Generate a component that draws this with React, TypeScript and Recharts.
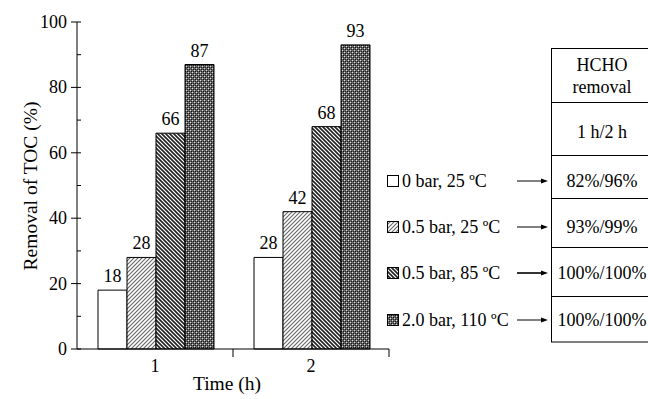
import { BarChart, Bar, XAxis, YAxis, LabelList } from 'recharts'

// ── Data ──────────────────────────────────────────────────────────────────────

const categories = ['1', '2']
const noPressure25 = [18, 28]
const halfBar25 = [28, 42]
const halfBar85 = [66, 68]
const twoBar110 = [87, 93]
const seriesNames = ['0 bar, 25 ºC', '0.5 bar, 25 ºC', '0.5 bar, 85 ºC', '2.0 bar, 110 ºC']
const hchoRemoval = ['82%/96%', '93%/99%', '100%/100%', '100%/100%']
const yTicks = [0, 10, 20, 30, 40, 50, 60, 70, 80, 90, 100]

const data = categories.map((t, i) => ({
  t,
  s0: noPressure25[i],
  s1: halfBar25[i],
  s2: halfBar85[i],
  s3: twoBar110[i],
}))

const FONT = '"Liberation Serif", "Times New Roman", serif'
const FILLS = ['#ffffff', 'url(#patLight)', 'url(#patDiag)', 'url(#patDark)']
const KEYS = ['s0', 's1', 's2', 's3']

// ── Ticks ─────────────────────────────────────────────────────────────────────

function YTick({ x, y, payload }: any) {
  const major = payload.value % 20 === 0
  return (
    <g>
      <line x1={major ? x - 6 : x} x2={x + 4} y1={y} y2={y} stroke="#000" />
      {major && (
        <text x={x - 10} y={y} textAnchor="end" dominantBaseline="central" fontSize={18} fontFamily={FONT} fill="#000">
          {payload.value}
        </text>
      )}
    </g>
  )
}

function XTick({ x, y, payload }: any) {
  return (
    <g>
      <line x1={x + 78} x2={x + 78} y1={y} y2={y + 8} stroke="#000" />
      <text x={x} y={y + 17} textAnchor="middle" dominantBaseline="central" fontSize={18} fontFamily={FONT} fill="#000">
        {payload.value}
      </text>
    </g>
  )
}

// ── Legend + table overlay ────────────────────────────────────────────────────

const rowY = [181, 227, 273, 320]
const tableLines = [48, 102, 155, 198, 247, 296, 342]

function Overlay() {
  return (
    <svg width={648} height={399} style={{ position: 'absolute', left: 0, top: 0, pointerEvents: 'none' }}>
      <text x={30} y={186} transform="rotate(-90 30 186)" textAnchor="middle" dominantBaseline="central" fontSize={19.5} fontFamily={FONT}>
        Removal of TOC (%)
      </text>
      <text x={227} y={383} textAnchor="middle" dominantBaseline="central" fontSize={19.5} fontFamily={FONT}>
        Time (h)
      </text>
      {seriesNames.map((name, i) => (
        <g key={name}>
          <rect x={387.5} y={rowY[i] - 5.5} width={11} height={11} fill={FILLS[i]} stroke="#000" />
          <text x={402} y={rowY[i]} dominantBaseline="central" fontSize={18} fontFamily={FONT}>
            {name}
          </text>
          <line x1={517} x2={544} y1={rowY[i]} y2={rowY[i]} stroke="#000" strokeWidth={i === 2 ? 1.6 : 1} />
          <path d={`M548,${rowY[i]} L541,${rowY[i] - 2.5} L541,${rowY[i] + 2.5} Z`} fill="#000" />
        </g>
      ))}
      <rect x={551.5} y={48.5} width={110} height={293.5} fill="none" stroke="#000" />
      {tableLines.slice(1, -1).map((ly) => (
        <line key={ly} x1={551.5} x2={660} y1={ly + 0.5} y2={ly + 0.5} stroke="#000" />
      ))}
      <text x={602} y={65} textAnchor="middle" dominantBaseline="central" fontSize={18} fontFamily={FONT}>HCHO</text>
      <text x={602} y={87} textAnchor="middle" dominantBaseline="central" fontSize={18} fontFamily={FONT}>removal</text>
      <text x={602} y={132} textAnchor="middle" dominantBaseline="central" fontSize={18} fontFamily={FONT}>1 h/2 h</text>
      {hchoRemoval.map((v, i) => (
        <text key={i} x={602} y={rowY[i]} textAnchor="middle" dominantBaseline="central" fontSize={18} fontFamily={FONT}>
          {v}
        </text>
      ))}
    </svg>
  )
}

// ── App ───────────────────────────────────────────────────────────────────────

export default function App() {
  return (
    <div style={{ position: 'absolute', left: 0, top: 0, width: 648, height: 399, background: '#fff', fontFamily: FONT }}>
      <svg width={0} height={0} style={{ position: 'absolute' }}>
        <defs>
          <pattern id="patLight" width={4} height={4} patternUnits="userSpaceOnUse">
            <rect width={4} height={4} fill="#fff" />
            <path d="M-1,1 L1,-1 M0,4 L4,0 M3,5 L5,3" stroke="#666" strokeWidth={1.1} />
          </pattern>
          <pattern id="patDiag" width={4} height={4} patternUnits="userSpaceOnUse">
            <rect width={4} height={4} fill="#fff" />
            <path d="M-1,3 L1,5 M0,0 L4,4 M3,-1 L5,1" stroke="#222" strokeWidth={1.6} />
          </pattern>
          <pattern id="patDark" width={4} height={4} patternUnits="userSpaceOnUse">
            <rect width={4} height={4} fill="#666" />
            <rect x={0} y={0} width={1} height={1} fill="#ddd" />
            <rect x={2} y={2} width={1} height={1} fill="#ddd" />
            <rect x={1} y={1} width={1} height={1} fill="#111" />
            <rect x={3} y={3} width={1} height={1} fill="#111" />
            <rect x={3} y={1} width={1} height={1} fill="#222" />
            <rect x={1} y={3} width={1} height={1} fill="#222" />
          </pattern>
        </defs>
      </svg>
      <BarChart
        width={648}
        height={399}
        data={data}
        margin={{ top: 22, right: 259, bottom: 20, left: 17 }}
        barCategoryGap={21}
        barGap={0}
      >
        <XAxis
          dataKey="t"
          height={30}
          axisLine={{ stroke: '#000' }}
          tickLine={false}
          tickSize={0}
          tickMargin={0}
          tick={<XTick />}
        />
        <YAxis
          width={60}
          domain={[0, 100]}
          ticks={yTicks}
          interval={0}
          axisLine={{ stroke: '#000' }}
          tickLine={false}
          tickSize={0}
          tickMargin={0}
          tick={<YTick />}
        />
        {KEYS.map((k, i) => (
          <Bar key={k} dataKey={k} fill={FILLS[i]} stroke="#000" strokeWidth={1} isAnimationActive={false}>
            <LabelList dataKey={k} position="top" offset={8} fill="#000" fontSize={18} fontFamily={FONT} />
          </Bar>
        ))}
      </BarChart>
      <Overlay />
    </div>
  )
}
